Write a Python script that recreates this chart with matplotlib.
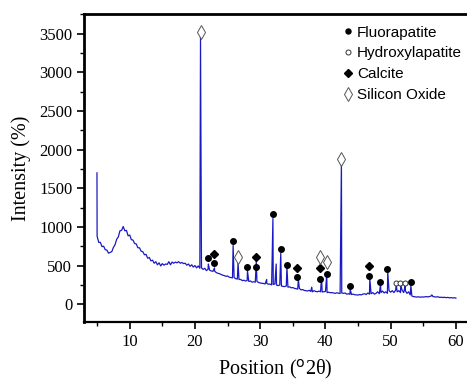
import numpy as np
import matplotlib.pyplot as plt
from matplotlib.lines import Line2D

# scan background, read every 0.25 deg from 5.0 to 60.0 (one row per degree)
scan_start = 5.0
scan_step = 0.25
background = [
    880, 800, 800, 745,
    750, 705, 700, 660,
    670, 680, 735, 770,
    840, 870, 950, 955,
    1005, 950, 955, 885,
    895, 835, 830, 785,
    780, 730, 730, 685,
    680, 640, 645, 595,
    605, 560, 570, 530,
    550, 510, 535, 495,
    525, 505, 520, 515,
    550, 510, 545, 530,
    545, 535, 550, 530,
    540, 525, 530, 505,
    520, 490, 510, 480,
    500, 470, 495, 465,
    470, 450, 465, 435,
    450, 440, 430, 425,
    430, 410, 400, 395,
    385, 375, 370, 360,
    365, 350, 345, 340,
    345, 330, 325, 320,
    320, 305, 310, 300,
    305, 295, 300, 285,
    290, 285, 295, 280,
    275, 270, 268, 262,
    270, 258, 260, 250,
    255, 262, 248, 240,
    250, 235, 230, 228,
    235, 220, 225, 212,
    215, 205, 200, 195,
    205, 185, 190, 178,
    175, 170, 180, 165,
    160, 175, 165, 160,
    170, 160, 158, 162,
    165, 150, 155, 148,
    150, 145, 140, 148,
    142, 138, 145, 140,
    145, 130, 135, 128,
    125, 130, 122, 120,
    118, 125, 120, 130,
    135, 125, 145, 130,
    135, 150, 130, 140,
    160, 135, 150, 170,
    145, 160, 140, 175,
    155, 175, 150, 180,
    160, 175, 150, 180,
    150, 175, 140, 160,
    120, 105, 98, 95,
    92, 96, 90, 94,
    92, 95, 98, 94,
    100, 108, 98, 95,
    92, 96, 88, 90,
    86, 90, 84, 88,
    82, 85, 80, 84,
    78,
]

# sharp reflections (position, top intensity)
peak_pos = [4.98, 20.85, 22.05, 23.0, 25.85, 26.6, 28.05, 29.4, 31.0, 31.95,
            32.45, 33.15, 34.1, 35.85, 37.9, 39.4, 40.2, 42.45, 43.8, 46.8,
            48.45, 49.55, 50.85, 51.55, 52.25, 53.1, 56.3]
peak_top = [1700, 3460, 520, 470, 760, 540, 430, 560, 320, 1110,
            520, 660, 480, 320, 220, 350, 380, 1850, 190, 330,
            260, 420, 250, 250, 250, 240, 120]

# phase labels
fluor_x = [22.0, 22.9, 25.8, 28.0, 29.3, 32.0, 33.2, 34.1, 35.7, 39.1, 40.2,
           43.7, 46.75, 48.4, 49.5, 53.1]
fluor_y = [596, 530, 816, 480, 480, 1165, 712, 505, 350, 325, 390,
           233, 363, 285, 453, 285]
hydroxy_x = [50.8, 51.5, 52.2]
hydroxy_y = [272, 272, 272]
calcite_x = [22.9, 29.3, 35.7, 39.1, 46.75]
calcite_y = [648, 608, 466, 466, 492]
silica_x = [20.85, 26.6, 39.1, 40.2, 42.35]
silica_y = [3520, 608, 608, 540, 1880]

x_bg = scan_start + scan_step * np.arange(len(background))
x_all = np.concatenate([peak_pos, x_bg])
y_all = np.concatenate([peak_top, background])
order = np.argsort(x_all, kind='stable')
x_all = x_all[order]
y_all = y_all[order]

serif = 'Liberation Serif'
sans = 'Liberation Sans'

fig = plt.figure(figsize=(4.67, 3.81), dpi=100)
ax = fig.add_axes([0.180, 0.155, 0.82, 0.808])

ax.plot(x_all, y_all, color='#1a1ac4', lw=0.9)

ax.plot(fluor_x, fluor_y, 'o', ms=4, color='black', ls='none')
ax.plot(hydroxy_x, hydroxy_y, 'o', ms=3.6, mfc='white', mec='#333333', mew=0.7, ls='none')
ax.plot(calcite_x, calcite_y, 'D', ms=4.3, color='black', ls='none')
ax.plot(silica_x, silica_y, 'd', ms=7.5, mfc='white', mec='#555555', mew=0.7, ls='none')

ax.set_xlim(3.0, 61.7)
ax.set_ylim(-230, 3755)
ax.set_xticks([10, 20, 30, 40, 50, 60])
ax.set_xticks([5, 15, 25, 35, 45, 55], minor=True)
ax.set_yticks(np.arange(0, 3501, 500))
ax.set_yticks(np.arange(250, 3751, 500), minor=True)

ax.spines['right'].set_visible(False)
ax.spines['left'].set_linewidth(2.0)
ax.spines['top'].set_linewidth(2.0)
ax.spines['bottom'].set_linewidth(1.6)
ax.tick_params(which='major', direction='out', length=5, width=1.2, labelsize=12)
ax.tick_params(which='minor', direction='out', length=3, width=1.0)
for lab in ax.get_xticklabels() + ax.get_yticklabels():
    lab.set_fontfamily(serif)

ax.set_xlabel('Position ($^{\\mathrm{o}}$2\u03b8)', fontsize=14.5, family=serif, labelpad=6)
ax.set_ylabel('Intensity (%)', fontsize=14.5, family=serif, labelpad=6)

handles = [
    Line2D([], [], marker='o', ms=3.6, color='black', ls='none'),
    Line2D([], [], marker='o', ms=3.6, mfc='white', mec='#333333', mew=0.7, ls='none'),
    Line2D([], [], marker='D', ms=4, color='black', ls='none'),
    Line2D([], [], marker='d', ms=7, mfc='white', mec='#555555', mew=0.7, ls='none'),
]
labels = ['Fluorapatite', 'Hydroxylapatite', 'Calcite', 'Silicon Oxide']
ax.legend(handles, labels, loc='upper left', bbox_to_anchor=(0.72, 0.953),
          bbox_transform=fig.transFigure, frameon=False, handlelength=0.5,
          handletextpad=0.35, labelspacing=0.45, borderpad=0,
          prop={'family': sans, 'size': 11})

fig.savefig('out.png', dpi=100)
